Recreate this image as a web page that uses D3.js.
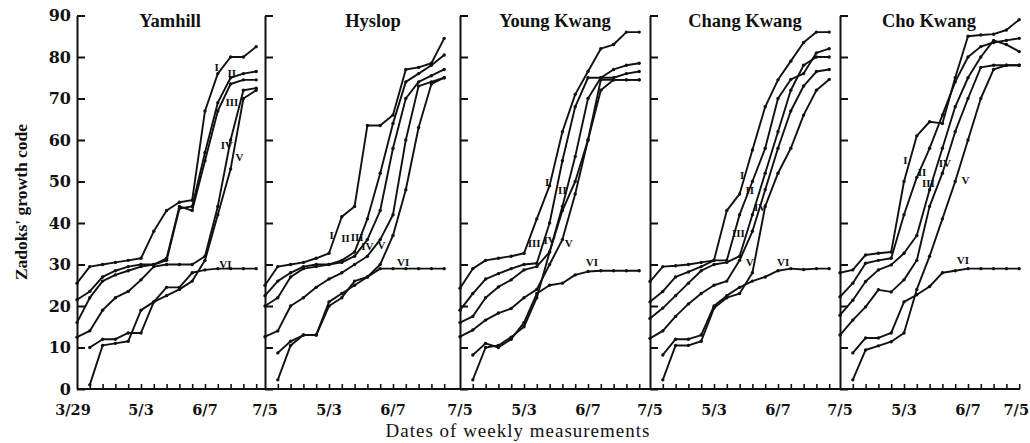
<!DOCTYPE html>
<html><head><meta charset="utf-8">
<script src="https://cdn.jsdelivr.net/npm/d3@7"></script>
<style>body{margin:0;background:#fff}svg{display:block}</style></head>
<body>
<svg id="chart" width="1030" height="443"></svg>
<script>
// ---------------- data ----------------
const panelNames = ["Yamhill", "Hyslop", "Young Kwang", "Chang Kwang", "Cho Kwang"];
const sowings = ["I", "II", "III", "IV", "V", "VI"];
const weeks = d3.range(0, 15); // weekly measurements from 3/29 to 7/5

const yamhill = [
  [25.5, 29.5, 30, 30.5, 31, 31.5, 38, 43, 45, 45.5, 67, 76, 80, 80, 82.5],
  [21.5, 23.5, 27, 28.5, 29.5, 30, 30, 31, 43.5, 44, 57, 69, 75, 76, 76.5],
  [16, 22, 26, 27.5, 28.5, 29.5, 30, 31.5, 44, 43, 55, 67, 73.5, 74.5, 74.5],
  [12.5, 14, 19, 22, 23.5, 26.3, 29.5, 30, 30, 30, 32, 44, 60, 72, 72.5],
  [null, 1, 10.5, 11, 11.5, 19, 21, 22.5, 24, 26, 31, 42, 53, 70, 72],
  [null, 10, 12, 12, 13.5, 13.5, 21, 24.5, 24.5, 28, 28.7, 29, 29, 29, 29]
];
const hyslop = [
  [25, 29.5, 30, 30.5, 31.5, 32.7, 41.5, 44, 63.5, 63.5, 66, 77, 77.5, 78.5, 84.5],
  [22.5, 26, 28, 29.5, 30, 30, 31, 33, 41, 52, 64, 74, 76, 78, 80.5],
  [20, 22, 27, 29, 29.5, 30, 30.5, 32, 36, 43, 58, 70, 74, 75.5, 77],
  [12.6, 14, 20, 22, 24.5, 26.5, 28, 30, 32, 36, 42, 60, 73, 74, 75],
  [null, 2.2, 10.5, 13, 13, 20, 22, 26, 27, 30, 37, 48, 63, 73.5, 75],
  [null, 8.7, 11.5, 13, 13, 21, 23, 25, 27, 29, 29, 29, 29, 29, 29]
];
const youngKwang = [
  [24.3, 29, 31, 31.5, 32, 32.7, 41, 49, 62, 71, 76.5, 82, 83, 86, 86],
  [19, 23, 26.5, 27.8, 29, 30, 30.3, 40, 55, 68, 75, 75, 77, 78, 78.5],
  [16, 17.5, 22, 24.6, 26.3, 28.7, 29.5, 33, 44, 56, 70, 75, 75, 76, 76.5],
  [12.6, 14.2, 16.6, 18.3, 19.4, 22, 24, 30, 36, 47, 60, 72, 74.5, 74.5, 74.5],
  [null, 2.2, 10, 10.5, 12.5, 15, 22, 33, 43, 50, 60, 74.5, 74.5, 74.5, 74.5],
  [null, 8.2, 11, 10, 12, 16, 23, 25, 25.5, 27.5, 28.3, 28.5, 28.5, 28.5, 28.5]
];
const changKwang = [
  [25.9, 29.5, 29.7, 30, 30.5, 31, 43, 47, 57.6, 68, 74.5, 79, 83.5, 86, 86],
  [21, 23.5, 27, 28.2, 29.5, 31, 31, 42, 50, 58, 70, 74.6, 76, 81, 82],
  [17, 19.5, 22.5, 25.5, 28.5, 30, 30.5, 32, 42, 52, 62, 72, 78, 80, 80],
  [12.2, 14, 17.5, 20.5, 23, 25, 26, 31, 38, 48, 58, 67, 73, 76.5, 77],
  [null, 2.2, 10.5, 10.5, 11.5, 19.5, 22, 23, 28, 44, 52, 58, 66, 72, 74.6],
  [null, 8.2, 12, 12, 13, 20, 22.5, 24.5, 26, 27, 28.5, 29, 28.8, 29, 29]
];
const choKwang = [
  [28, 28.7, 32.3, 32.7, 33, 50, 61, 64.4, 64, 75, 85, 85.3, 85.5, 86.5, 89],
  [22.2, 25.5, 30.3, 31, 31.5, 42, 51, 58, 66, 74, 80, 82.5, 83.5, 84, 84.5],
  [17.8, 21.4, 25.9, 28.7, 29.9, 32.7, 37, 48, 58, 68, 75, 80, 84, 83, 81.3],
  [13, 16.6, 19.8, 23.9, 23.4, 26.3, 31, 44, 52, 62, 70, 77.5, 78, 78, 78],
  [null, 2.2, 9.4, 10.4, 11.4, 13.5, 24, 32, 41, 50, 60, 70, 77, 78, 78],
  [null, 8.7, 12.3, 12.3, 13.5, 21, 22.7, 24.7, 28, 28.5, 29, 29, 29, 29, 29]
];
const panelData = [yamhill, hyslop, youngKwang, changKwang, choKwang];

// label anchors for sowing-date numerals, as [week, Zadoks value]
const yamhillLabels = [[10.9, 77.6], [12.1, 76.1], [12.1, 69.2], [11.7, 58.8], [12.7, 55.9], [11.6, 30.1]];
const hyslopLabels = [[5.2, 37.1], [6.3, 36.4], [7.2, 36.6], [8.0, 34.5], [9.1, 34.7], [10.8, 30.6]];
const youngKwangLabels = [[6.8, 49.9], [8.0, 48], [5.8, 35.2], [7.0, 35.9], [8.5, 35.2], [10.3, 30.6]];
const changKwangLabels = [[7.2, 51.6], [7.8, 48], [6.9, 37.6], [8.6, 43.9], [7.8, 30.6], [10.4, 30.6]];
const choKwangLabels = [[5.1, 55.2], [6.4, 52.3], [6.9, 49.6], [8.2, 54.5], [9.8, 50.4], [9.6, 31.1]];
const panelLabels = [yamhillLabels, hyslopLabels, youngKwangLabels, changKwangLabels, choKwangLabels];

const yTicks = d3.range(0, 91, 10);
const xTickWeeks = [0, 5, 10, 14];
const xTickLabels = ["3/29", "5/3", "6/7", "7/5"];

// ---------------- layout ----------------
const svg = d3.select("#chart");
const panelLeft = [77, 265, 460, 650, 840];
const weekPx = 12.8;
const titleOffset = [93, 108, 95, 95, 89];
const y = d3.scaleLinear().domain([0, 90]).range([389, 15.5]);
const ink = "#111";
const serifTitle = "'Liberation Serif', 'Times New Roman', serif";
const serifTick = "'DejaVu Serif', 'Liberation Serif', serif";

panelNames.forEach((name, i) => {
  const L = panelLeft[i];
  const last = i === panelNames.length - 1;
  const x = d3.scaleLinear().domain([0, 14]).range([L, L + 14 * weekPx]);
  const g = svg.append("g");

  // left axis with inward ticks
  const yAxis = d3.axisRight(y).tickValues(yTicks).tickSize(8).tickSizeOuter(0).tickFormat("");
  const ya = g.append("g").attr("transform", `translate(${L},0)`).call(yAxis);
  ya.selectAll("path,line").attr("stroke", ink).attr("stroke-width", 2);

  // bottom axis line running to the next panel
  const right = !last ? panelLeft[i + 1] : x(14) + 1;
  g.append("line").attr("x1", L).attr("x2", right).attr("y1", y(0)).attr("y2", y(0))
    .attr("stroke", ink).attr("stroke-width", 2.2);
  const xAxis = d3.axisTop(x).tickValues(d3.range(1, 15)).tickSize(5).tickSizeOuter(0).tickFormat("");
  const xa = g.append("g").attr("transform", `translate(0,${y(0)})`).call(xAxis);
  xa.select(".domain").remove();
  xa.selectAll("line").attr("stroke", ink).attr("stroke-width", 1.6);

  // x tick labels
  xTickWeeks.forEach((w, k) => {
    if (i > 0 && w === 0) return;
    let px = (w === 14) ? right : x(w);
    let anchor = "middle";
    if (w === 14 && last) { px = 1029; anchor = "end"; }
    if (w === 0) px = x(w) - 4;
    g.append("text").attr("x", px).attr("y", 415).attr("text-anchor", anchor)
      .attr("font-family", serifTick).attr("font-weight", "bold").attr("font-size", 14.5)
      .attr("fill", ink).text(xTickLabels[k]);
  });

  // y tick labels only on first panel
  if (i === 0) {
    yTicks.forEach(t => {
      g.append("text").attr("x", L - 6).attr("y", y(t)).attr("dy", "0.36em")
        .attr("text-anchor", "end").attr("font-family", serifTick).attr("font-weight", "bold")
        .attr("font-size", 16).attr("fill", ink).text(t);
    });
  }

  // title
  g.append("text").attr("x", L + titleOffset[i]).attr("y", 27).attr("text-anchor", "middle")
    .attr("font-family", serifTitle).attr("font-weight", "bold").attr("font-size", 18.5)
    .attr("fill", ink).text(name);

  // series
  const line = d3.line().defined(d => d.v != null).x(d => x(d.w)).y(d => y(d.v));
  panelData[i].forEach((vals, s) => {
    const pts = weeks.map(w => ({ w, v: vals[w] }));
    g.append("path").datum(pts).attr("d", line).attr("fill", "none")
      .attr("stroke", ink).attr("stroke-width", 1.9).attr("stroke-linejoin", "round");
    g.selectAll(null).data(pts.filter(d => d.v != null)).enter().append("circle")
      .attr("cx", d => x(d.w)).attr("cy", d => y(d.v)).attr("r", 1.7).attr("fill", ink);
  });

  // sowing labels
  panelLabels[i].forEach((a, s) => {
    g.append("text").attr("x", x(a[0])).attr("y", y(a[1])).attr("dy", "0.35em")
      .attr("text-anchor", "middle").attr("font-family", serifTitle).attr("font-weight", "bold")
      .attr("font-size", 11).attr("fill", ink).text(sowings[s]);
  });
});

// axis titles
svg.append("text").attr("transform", "translate(27,202) rotate(-90)").attr("text-anchor", "middle")
  .attr("font-family", serifTitle).attr("font-weight", "bold").attr("font-size", 17.5)
  .attr("fill", ink).text("Zadoks' growth code");
svg.append("text").attr("x", 518).attr("y", 437).attr("text-anchor", "middle")
  .attr("font-family", serifTitle).attr("font-size", 19).attr("letter-spacing", 1)
  .attr("fill", ink).text("Dates of weekly measurements");
</script>
</body></html>
